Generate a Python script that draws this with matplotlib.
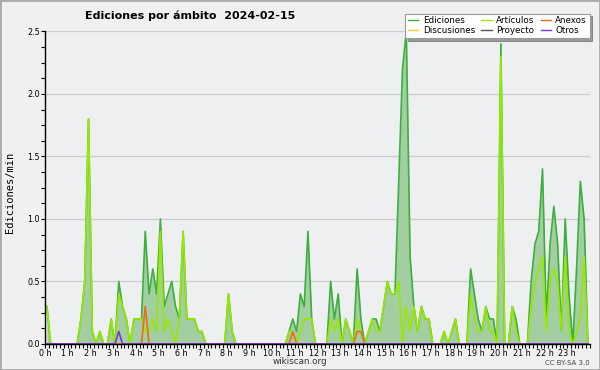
import numpy as np
import matplotlib
matplotlib.use("Agg")
from matplotlib import pyplot as plt
from matplotlib.patches import Rectangle

# 10-minute buckets, edits per minute (144 values per series)
ediciones = [
    0.3, 0, 0, 0, 0, 0,
    0, 0, 0, 0.2, 0.5, 1.8,
    0.1, 0, 0.1, 0, 0, 0.2,
    0, 0.5, 0.3, 0.2, 0, 0.2,
    0.2, 0.2, 0.9, 0.4, 0.6, 0.4,
    1.0, 0.3, 0.4, 0.5, 0.3, 0.2,
    0.9, 0.2, 0.2, 0.2, 0.1, 0.1,
    0, 0, 0, 0, 0, 0,
    0.4, 0.1, 0, 0, 0, 0,
    0, 0, 0, 0, 0, 0,
    0, 0, 0, 0, 0.1, 0.2,
    0.1, 0.4, 0.3, 0.9, 0.2, 0,
    0, 0, 0, 0.5, 0.2, 0.4,
    0, 0.2, 0.1, 0, 0.6, 0.2,
    0, 0.1, 0.2, 0.2, 0.1, 0.3,
    0.5, 0.4, 0.4, 1.3, 2.2, 2.5,
    0.7, 0.3, 0.1, 0.3, 0.2, 0.2,
    0, 0, 0, 0.1, 0, 0.1,
    0.2, 0, 0, 0, 0.6, 0.4,
    0.2, 0.1, 0.3, 0.2, 0.2, 0,
    2.4, 0, 0, 0.3, 0.2, 0,
    0, 0, 0.5, 0.8, 0.9, 1.4,
    0.2, 0.8, 1.1, 0.8, 0.1, 1.0,
    0.4, 0, 0.6, 1.3, 1.0, 0,
]
articulos = [
    0.3, 0, 0, 0, 0, 0,
    0, 0, 0, 0.2, 0.5, 1.8,
    0.1, 0, 0.1, 0, 0, 0.2,
    0, 0.4, 0.3, 0.2, 0, 0.2,
    0.2, 0.2, 0.1, 0.1, 0.2, 0.1,
    0.9, 0.1, 0.2, 0.1, 0, 0.2,
    0.9, 0.2, 0.2, 0.2, 0.1, 0.1,
    0, 0, 0, 0, 0, 0,
    0.4, 0.1, 0, 0, 0, 0,
    0, 0, 0, 0, 0, 0,
    0, 0, 0, 0, 0.1, 0.1,
    0, 0.1, 0.2, 0.2, 0.2, 0,
    0, 0, 0, 0.2, 0.1, 0.2,
    0, 0.2, 0.1, 0, 0.2, 0.1,
    0, 0.1, 0.2, 0.1, 0.1, 0.3,
    0.5, 0.4, 0.4, 0.5, 0, 0.3,
    0.1, 0.3, 0.1, 0.3, 0.2, 0.2,
    0, 0, 0, 0.1, 0, 0.1,
    0.2, 0, 0, 0, 0.4, 0.2,
    0.1, 0.1, 0.3, 0.1, 0.1, 0,
    2.3, 0, 0, 0.3, 0.1, 0,
    0, 0, 0.3, 0.5, 0.6, 0.7,
    0.1, 0.5, 0.6, 0.5, 0.1, 0.7,
    0.1, 0, 0.1, 0.2, 0.7, 0,
]
anexos = [0.0] * 144
anexos[26] = 0.3
anexos[65] = 0.1
anexos[82] = 0.1
anexos[83] = 0.1
otros = [0.0] * 144
otros[19] = 0.1
discusiones = [0.0] * 144
proyecto = [0.0] * 144

hour_labels = ["%d h" % h for h in range(24)]

x = (np.arange(144) + 0.5) / 6.0

fig = plt.figure(figsize=(6, 3.7), dpi=100, facecolor="#f0f0f0")
ax = fig.add_axes([0.075, 0.0703, 0.908, 0.845])
ax.set_facecolor("#eeeff1")

ax.fill_between(x, ediciones, color="#a2cea2", lw=0, zorder=1)
l_ed, = ax.plot(x, ediciones, color="#3caf3c", lw=1.2, label="Ediciones", zorder=3)
l_dis, = ax.plot(x, discusiones, color="#ffcc33", lw=1.1, label="Discusiones", zorder=2)
l_art, = ax.plot(x, articulos, color="#98e800", lw=1.2, label="Artículos", zorder=4)
l_pro, = ax.plot(x, proyecto, color="#555555", lw=1.1, label="Proyecto", zorder=2)
l_anx, = ax.plot(x, anexos, color="#f06a1e", lw=1.2, label="Anexos", zorder=5)
l_otr, = ax.plot(x, otros, color="#7a30f0", lw=1.2, label="Otros", zorder=5)

ax.set_xlim(0, 24)
ax.set_ylim(0, 2.5)
ax.set_xticks(np.arange(24))
ax.set_xticklabels(hour_labels)
ax.set_xticks(np.arange(0, 24.01, 1 / 6.0), minor=True)
ax.set_yticks(np.arange(0, 2.51, 0.5))
ax.set_yticklabels(["%.1f" % v for v in np.arange(0, 2.51, 0.5)])
ax.set_yticks(np.arange(0, 2.51, 0.125), minor=True)
ax.tick_params(which="both", direction="out", length=3, width=0.8, colors="black",
               labelsize=5.8, pad=0.5)
ax.grid(axis="y", color="#cccccc", lw=0.9, zorder=0)
ax.set_axisbelow(True)
for s in ["top", "right"]:
    ax.spines[s].set_visible(False)
for s in ["left", "bottom"]:
    ax.spines[s].set_linewidth(1.0)
    ax.spines[s].set_zorder(6)

fig.text(0.142, 0.958, "Ediciones por ámbito  2024-02-15", fontweight="bold",
         fontsize=8, ha="left", va="center")
fig.text(0.017, 0.48, "Ediciones/min", rotation=90, family="DejaVu Sans Mono",
         fontsize=7.5, ha="center", va="center")
fig.text(0.5, 0.022, "wikiscan.org", fontsize=6.3, ha="center", va="center", color="#333333")
fig.text(0.983, 0.02, "CC BY-SA 3.0", fontsize=5, ha="right", va="center", color="#444444")

leg = fig.legend(handles=[l_ed, l_dis, l_art, l_pro, l_anx, l_otr], ncol=3,
                 loc="upper right", bbox_to_anchor=(0.99, 0.975), fontsize=6.3,
                 frameon=True, fancybox=False, shadow=True, edgecolor="#999999",
                 framealpha=1, handlelength=1.2, handletextpad=0.5,
                 columnspacing=0.7, labelspacing=0.1, borderpad=0.3)
leg.get_frame().set_linewidth(0.8)
for h in leg.legend_handles:
    h.set_linewidth(1.0)

fig.patches.append(Rectangle((0, 0), 1, 1, transform=fig.transFigure, fill=False,
                             edgecolor="#aaaaaa", lw=2))

fig.savefig("out.png", dpi=100, facecolor=fig.get_facecolor())
